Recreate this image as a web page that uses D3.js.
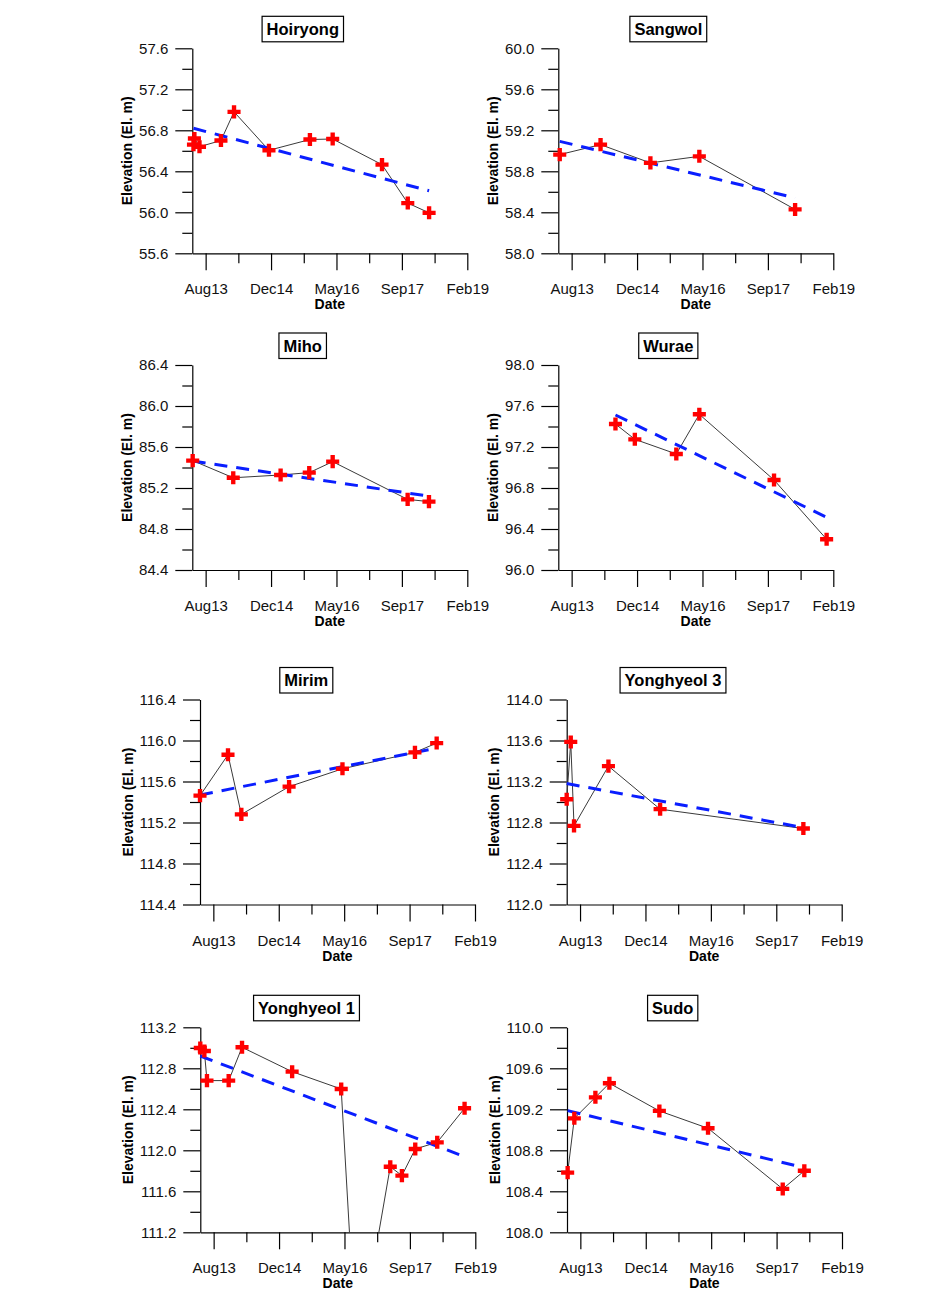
<!DOCTYPE html>
<html><head><meta charset="utf-8">
<script src="https://cdn.jsdelivr.net/npm/d3@7"></script>
<style>body{margin:0;background:#fff;} svg{display:block;font-family:"Liberation Sans",Arial,sans-serif;}</style>
</head><body><svg id="chart" width="930" height="1302"></svg>
<script>
// ---------------- DATA ----------------
const stationNames = ["Hoiryong","Sangwol","Miho","Wurae","Mirim","Yonghyeol 3","Yonghyeol 1","Sudo"];
const yDomainMin = [55.6, 58.0, 84.4, 96.0, 114.4, 112.0, 111.2, 108.0];
const yDomainMax = [57.6, 60.0, 86.4, 98.0, 116.4, 114.0, 113.2, 110.0];
const tickDates  = ["2013-08-15","2014-12-28","2016-05-11","2017-09-23","2019-02-05"];
const tickLabels = ["Aug13","Dec14","May16","Sep17","Feb19"];

const hoiryongDates  = ["2013-05-14","2013-05-21","2013-06-29","2013-12-10","2014-03-20","2014-12-12","2015-10-21","2016-04-12","2017-04-24","2017-11-07","2018-04-19"];
const hoiryongValues = [56.66, 56.72, 56.64, 56.70, 56.98, 56.605, 56.71, 56.715, 56.465, 56.09, 55.995];

const sangwolDates  = ["2013-05-16","2014-03-24","2015-04-09","2016-04-17","2018-04-19"];
const sangwolValues = [58.963, 59.06, 58.882, 58.946, 58.428];

const mihoDates  = ["2013-05-08","2014-03-14","2015-03-11","2015-10-16","2016-04-12","2017-11-06","2018-04-18"];
const mihoValues = [85.467, 85.30, 85.327, 85.35, 85.457, 85.089, 85.067];

const wuraeDates  = ["2014-07-16","2014-12-11","2015-10-24","2016-04-17","2017-11-09","2018-12-16"];
const wuraeValues = [97.424, 97.275, 97.132, 97.519, 96.878, 96.30];

const mirimDates  = ["2013-05-05","2013-12-05","2014-03-17","2015-03-17","2016-04-28","2017-11-03","2018-04-18"];
const mirimValues = [115.462, 115.861, 115.279, 115.55, 115.724, 115.884, 115.975];

const yonghyeol3Dates  = ["2013-05-05","2013-06-05","2013-06-30","2014-03-20","2015-04-19","2018-04-18"];
const yonghyeol3Values = [113.027, 113.586, 112.767, 113.35, 112.93, 112.741];

const yonghyeol1Dates  = ["2013-05-05","2013-06-05","2013-06-25","2013-12-08","2014-03-20","2015-04-07","2016-04-16","2016-08-13","2017-04-26","2017-07-24","2017-11-03","2018-04-20","2018-11-15"];
const yonghyeol1Values = [112.998, 112.969, 112.68, 112.68, 113.005, 112.767, 112.598, 109.96, 111.84, 111.753, 112.013, 112.078, 112.41];

const sudoDates  = ["2013-05-10","2013-06-30","2013-12-08","2014-03-25","2015-04-11","2016-04-17","2017-11-09","2018-04-23"];
const sudoValues = [108.582, 109.112, 109.317, 109.454, 109.184, 109.015, 108.423, 108.60];

// trend line values at first and last observation date
const trendStart = [56.82, 59.092, 85.463, 97.512, 115.469, 113.18, 112.92, 109.187];
const trendEnd   = [56.21, 58.541, 85.12, 96.514, 115.926, 112.75, 111.938, 108.63];

const allDates  = [hoiryongDates, sangwolDates, mihoDates, wuraeDates, mirimDates, yonghyeol3Dates, yonghyeol1Dates, sudoDates];
const allValues = [hoiryongValues, sangwolValues, mihoValues, wuraeValues, mirimValues, yonghyeol3Values, yonghyeol1Values, sudoValues];

// ---------------- LAYOUT ----------------
const W = 275, H = 205;
const layout = [
  {x0:192.3, y0:48.3,  titleDx:110.5, yTitleDx:60},
  {x0:558.3, y0:48.3,  titleDx:110,   yTitleDx:60},
  {x0:192.3, y0:365,   titleDx:110.4, yTitleDx:60},
  {x0:558.3, y0:365,   titleDx:110,   yTitleDx:60},
  {x0:200,   y0:699.5, titleDx:106.3, yTitleDx:67.5},
  {x0:566.7, y0:699.5, titleDx:106.3, yTitleDx:67.5},
  {x0:200.3, y0:1027.3,titleDx:106.2, yTitleDx:67.5},
  {x0:567,   y0:1027.3,titleDx:105.7, yTitleDx:67.5}
];

const parse = d3.timeParse("%Y-%m-%d");
const majorX = tickDates.map(parse);
const minorX = d3.pairs(majorX).map(([a,b]) => new Date((+a + +b)/2));
const xDomain = [d3.timeDay.offset(majorX[0], -102), majorX[majorX.length-1]];

const svg = d3.select("#chart");
const textColor = "#111";

stationNames.forEach((name, i) => {
  const L = layout[i];
  const g = svg.append("g").attr("transform", `translate(${L.x0},${L.y0})`);
  const x = d3.scaleTime().domain(xDomain).range([0, W]);
  const y = d3.scaleLinear().domain([yDomainMin[i], yDomainMax[i]]).range([H, 0]);

  const yMajor = d3.range(0, 6).map(k => +(yDomainMin[i] + k*0.4).toFixed(1));
  const yMinor = d3.range(0, 5).map(k => +(yDomainMin[i] + 0.2 + k*0.4).toFixed(1));

  g.append("g").call(d3.axisLeft(y).tickValues(yMajor).tickFormat(d3.format(".1f")).tickSize(17).tickSizeOuter(0).tickPadding(7));
  g.append("g").call(d3.axisLeft(y).tickValues(yMinor).tickFormat("").tickSize(10).tickSizeOuter(0)).select(".domain").remove();
  g.append("g").attr("transform", `translate(0,${H})`)
    .call(d3.axisBottom(x).tickValues(majorX).tickFormat((d,k) => tickLabels[k]).tickSize(17).tickSizeOuter(0).tickPadding(13.4));
  g.append("g").attr("transform", `translate(0,${H})`)
    .call(d3.axisBottom(x).tickValues(minorX).tickFormat("").tickSize(10).tickSizeOuter(0)).select(".domain").remove();

  g.selectAll(".tick text").attr("font-size", 15).attr("fill", textColor).attr("font-family", '"Liberation Sans", Arial, sans-serif');
  g.selectAll(".tick line, .domain").attr("stroke", "#000").attr("stroke-width", 1.2);

  g.append("text").attr("transform", `translate(${-L.yTitleDx},${H/2}) rotate(-90)`)
    .attr("text-anchor", "middle").attr("font-size", 14).attr("font-weight", "bold").attr("fill", "#000")
    .text("Elevation (El. m)");
  g.append("text").attr("x", W/2).attr("y", H + 56).attr("text-anchor", "middle")
    .attr("font-size", 14).attr("font-weight", "bold").attr("fill", "#000").text("Date");

  const tg = g.append("g");
  const tt = tg.append("text").attr("x", L.titleDx).attr("y", -19.3).attr("dy", "0.36em")
    .attr("text-anchor", "middle").attr("font-size", 16.5).attr("font-weight", "bold").attr("fill", "#000").text(name);
  const tw = tt.node().getComputedTextLength();
  tg.insert("rect", "text").attr("x", L.titleDx - tw/2 - 4.5).attr("y", -32).attr("width", tw + 9).attr("height", 25.5)
    .attr("fill", "#fff").attr("stroke", "#000").attr("stroke-width", 1.2);

  const pts = allDates[i].map((d,k) => ({date: parse(d), value: allValues[i][k]}));
  const clipId = "clip" + i;
  g.append("clipPath").attr("id", clipId).append("rect").attr("x", -15).attr("y", -15).attr("width", W + 30).attr("height", H + 15);

  const trend = [{date: pts[0].date, value: trendStart[i]}, {date: pts[pts.length-1].date, value: trendEnd[i]}];
  const line = d3.line().x(d => x(d.date)).y(d => y(d.value));

  g.append("path").datum(pts).attr("d", line).attr("fill", "none").attr("stroke", "#3a3a3a")
    .attr("stroke-width", 1).attr("clip-path", `url(#${clipId})`);
  g.append("path").datum(trend).attr("d", line).attr("fill", "none").attr("stroke", "#0a1eff")
    .attr("stroke-width", 3).attr("stroke-dasharray", "13,9");

  g.selectAll(".mk").data(pts.filter(p => p.value >= yDomainMin[i] && p.value <= yDomainMax[i])).join("path")
    .attr("class", "mk")
    .attr("transform", d => `translate(${x(d.date)},${y(d.value)})`)
    .attr("d", d3.symbol(d3.symbolCross, 95))
    .attr("fill", "#ff0000");
});
</script></body></html>
